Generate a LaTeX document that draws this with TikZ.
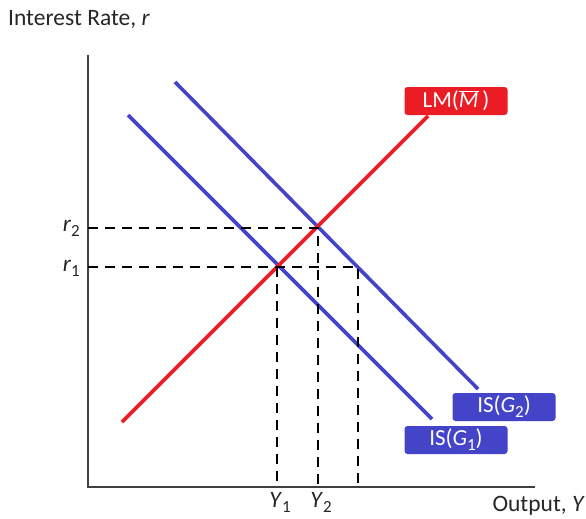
\documentclass[tikz,border=0pt]{standalone}
\usepackage{fontspec}
\setmainfont{Carlito}
\definecolor{lmred}{RGB}{236,28,36}
\definecolor{isblue}{RGB}{68,68,200}
\newcommand{\lowsub}[1]{\raisebox{-0.45ex}{\fontsize{17}{17}\selectfont #1}}
\begin{document}
\begin{tikzpicture}[x=1pt, y=-1pt,
  axis/.style={line width=1.6pt, draw=black!75},
  curve/.style={line width=3.6pt},
  guide/.style={line width=1.2pt, dash pattern=on 10pt off 7pt},
  tag/.style={rectangle, rounded corners=3pt, text=white, minimum width=103pt,
              minimum height=28pt, inner sep=0pt, font=\fontsize{23}{26}\selectfont},
  label/.style={font=\fontsize{23.5}{26}\selectfont, text=black!85, inner sep=0pt}
]
\useasboundingbox (0,0) rectangle (586,519);

% axes
\coordinate (ytop) at (88,55);
\coordinate (origin) at (88,487);
\coordinate (xend) at (535,487);
\draw[axis] (ytop) -- (origin) -- (xend);
\node[label, anchor=west] (ylab) at (8,19) {Interest Rate, \textit{r}};
\node[label, anchor=east] (xlab) at (585,506) {Output, \textit{Y}};

% curves
\coordinate (lmlo) at (122,422);
\coordinate (lmhi) at (428,116);
\coordinate (isahi) at (128,115);
\coordinate (isalo) at (432,419);
\coordinate (isbhi) at (175,82);
\coordinate (isblo) at (478,389);
\draw[curve, isblue] (isahi) -- (isalo);
\draw[curve, isblue] (isbhi) -- (isblo);
\draw[curve, lmred] (lmlo) -- (lmhi);

% equilibrium points
\coordinate (eqa) at (277,267);
\coordinate (eqb) at (318,228);
\coordinate (eqc) at (358,267);
\draw[guide] (eqb -| origin) -- (eqb) -- (eqb |- origin);
\draw[guide] (eqa -| origin) -- (eqc) -- (eqc |- origin);
\draw[guide] (eqa) -- (eqa |- origin);

\node[label, anchor=east] (rb) at (80,228) {\textit{r}\lowsub{2}};
\node[label, anchor=east] (ra) at (80,268) {\textit{r}\lowsub{1}};
\node[label] (ya) at (280,502) {\textit{Y}\lowsub{1}};
\node[label] (yb) at (321,502) {\textit{Y}\lowsub{2}};

% curve tags
\node[tag, fill=lmred] (lmtag) at (456,101) {LM($\overline{\mbox{\textit{M}}}$\,)};
\node[tag, fill=isblue] (isbtag) at (504,407) {IS(\textit{G}\lowsub{2})};
\node[tag, fill=isblue] (isatag) at (456,440) {IS(\textit{G}\lowsub{1})};
\end{tikzpicture}
\end{document}
